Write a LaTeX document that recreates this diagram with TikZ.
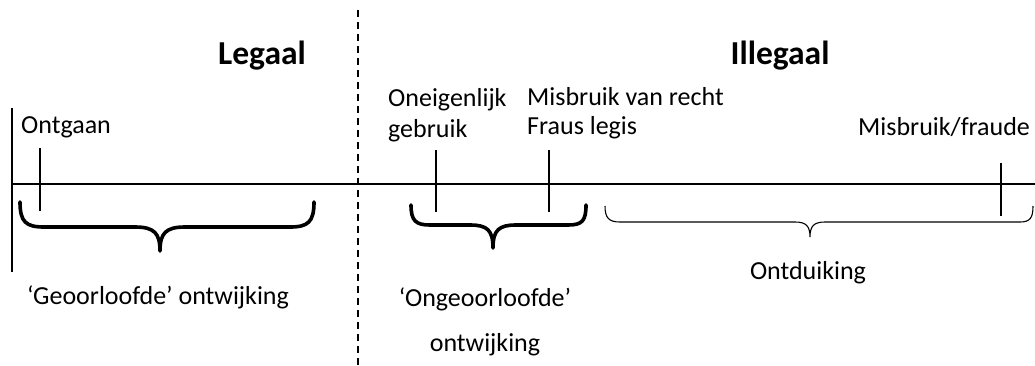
\documentclass[tikz,border=0pt]{standalone}
\usepackage{fontspec}
\setmainfont{Carlito}
\begin{document}
\begin{tikzpicture}[x=1pt,y=-1pt,
  lbl/.style={inner sep=0pt,font=\fontsize{26}{30}\selectfont},
  head/.style={inner sep=0pt,font=\fontsize{33.5}{38}\selectfont\bfseries},
  tick/.style={line width=1.2pt},
  thickbrace/.style={line width=3.6pt},
  thinbrace/.style={line width=1.1pt}]
\useasboundingbox (0,0) rectangle (1035,365);
% axis
\coordinate (axL) at (12,184);
\coordinate (axR) at (1035,184);
\draw[line width=2.6pt] (axL) -- (axR);
% left boundary
\coordinate (lb1) at (12,108);
\coordinate (lb2) at (12,272);
\draw[line width=1.2pt] (lb1) -- (lb2);
% dashed divider
\coordinate (dv1) at (358,10);
\coordinate (dv2) at (358,365);
\draw[line width=1.8pt,dash pattern=on 7pt off 5pt] (dv1) -- (dv2);
% headings
\node[head] (legaal) at (262,56) {Legaal};
\node[head] (illegaal) at (780,56) {Illegaal};
% labels
\node[lbl,anchor=west] (ontgaan) at (21,127) {Ontgaan};
\node[lbl,anchor=west] (onei) at (388,100) {Oneigenlijk};
\node[lbl,anchor=west] (gebr) at (388,131) {gebruik};
\node[lbl,anchor=west] (misb) at (527,97) {Misbruik van recht};
\node[lbl,anchor=west] (fraus) at (527,128) {Fraus legis};
\node[lbl,anchor=west] (mfr) at (858,127) {Misbruik/fraude};
\node[lbl] (geo) at (158,297) {‘Geoorloofde’ ontwijking};
\node[lbl] (ongeo) at (485,299) {‘Ongeoorloofde’};
\node[lbl] (ontw) at (485,345) {ontwijking};
\node[lbl] (ontd) at (808,273) {Ontduiking};
% ticks
\coordinate (t1a) at (40,148); \coordinate (t1b) at (40,211);
\coordinate (t2a) at (436,150); \coordinate (t2b) at (436,212);
\coordinate (t3a) at (549,150); \coordinate (t3b) at (549,212);
\coordinate (t4a) at (1001,163); \coordinate (t4b) at (1001,216);
\draw[tick] (t1a) -- (t1b);
\draw[tick] (t2a) -- (t2b);
\draw[tick] (t3a) -- (t3b);
\draw[tick] (t4a) -- (t4b);
% brace 1
\draw[thickbrace,line cap=round,line join=round]
  (20,202) .. controls (20,222) and (26,227) .. (44,227)
  -- (135,227) .. controls (154,227) and (160,233) .. (160,251)
  (160,251) .. controls (160,233) and (166,227) .. (185,227)
  -- (290,227) .. controls (308,227) and (314,222) .. (314,202);
% brace 2
\draw[thickbrace,line cap=round,line join=round]
  (411,205) .. controls (411,221) and (416,225) .. (430,225)
  -- (470,225) .. controls (487,225) and (493,230) .. (493,248)
  (493,248) .. controls (493,230) and (499,225) .. (516,225)
  -- (568,225) .. controls (582,225) and (586,221) .. (586,205);
% brace 3
\draw[thinbrace]
  (605,206) .. controls (605,218) and (609,222) .. (620,222)
  -- (795,222) .. controls (806,222) and (810,226) .. (810,237)
  (810,237) .. controls (810,226) and (814,222) .. (825,222)
  -- (1020,222) .. controls (1030,222) and (1033,218) .. (1033,206);
\end{tikzpicture}
\end{document}
